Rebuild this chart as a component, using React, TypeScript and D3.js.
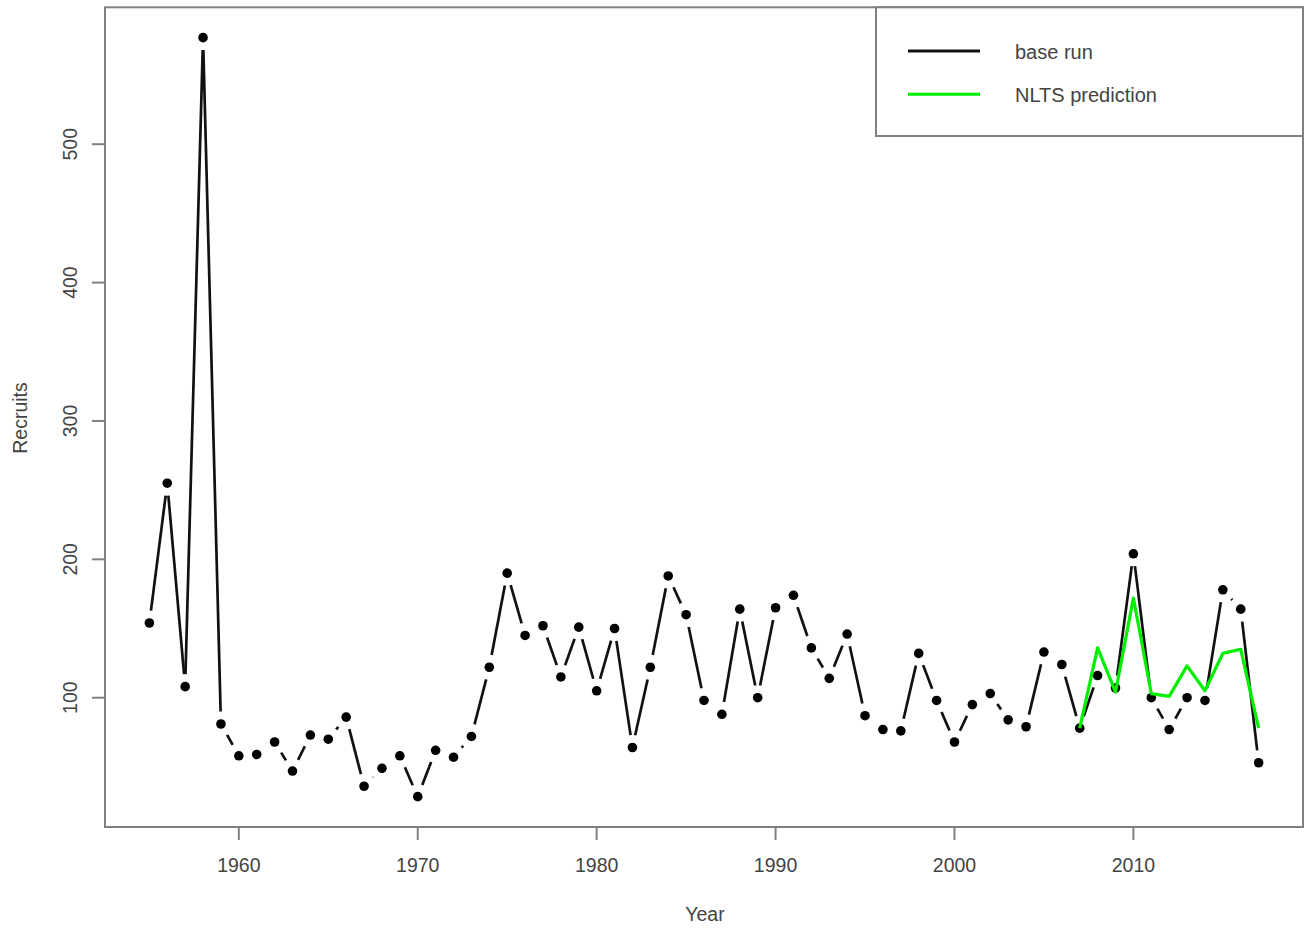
import React from "react";
import * as d3 from "d3";

const years: number[] = [
  1955, 1956, 1957, 1958, 1959, 1960, 1961, 1962, 1963, 1964, 1965, 1966, 1967, 1968, 1969,
  1970, 1971, 1972, 1973, 1974, 1975, 1976, 1977, 1978, 1979, 1980, 1981, 1982, 1983, 1984,
  1985, 1986, 1987, 1988, 1989, 1990, 1991, 1992, 1993, 1994, 1995, 1996, 1997, 1998, 1999,
  2000, 2001, 2002, 2003, 2004, 2005, 2006, 2007, 2008, 2009, 2010, 2011, 2012, 2013, 2014,
  2015, 2016, 2017,
];
const baseRun: number[] = [
  154, 255, 108, 577, 81, 58, 59, 68, 47, 73, 70, 86, 36, 49, 58,
  28.5, 62, 57, 72, 122, 190, 145, 152, 115, 151, 105, 150, 64, 122, 188,
  160, 98, 88, 164, 100, 165, 174, 136, 114, 146, 87, 77, 76, 132, 98,
  68, 95, 103, 84, 79, 133, 124, 78, 116, 107, 204, 100, 77, 100, 98,
  178, 164, 53,
];
const nltsYears: number[] = [2007, 2008, 2009, 2010, 2011, 2012, 2013, 2014, 2015, 2016, 2017];
const nltsPred: number[] = [78, 136, 104, 172, 103, 101, 123, 105, 132, 135, 78];

const xTicks: number[] = [1960, 1970, 1980, 1990, 2000, 2010];
const yTicks: number[] = [100, 200, 300, 400, 500];
const legendLabels: string[] = ["base run", "NLTS prediction"];
const legendColors: string[] = ["#111111", "#00ee00"];

const W = 1308;
const H = 930;
const plot = { left: 105, right: 1303, top: 7.3, bottom: 827 };
const FONT = "'Liberation Sans', Arial, sans-serif";
const TEXT = "#444";
const AXIS = "#808080";

function pad(ext: [number, number]): [number, number] {
  const r = ext[1] - ext[0];
  return [ext[0] - 0.04 * r, ext[1] + 0.04 * r];
}

export default function App() {
  const x = d3
    .scaleLinear()
    .domain(pad(d3.extent(years) as [number, number]))
    .range([plot.left, plot.right]);
  const y = d3
    .scaleLinear()
    .domain(pad(d3.extent(baseRun) as [number, number]))
    .range([plot.bottom, plot.top]);

  const pts = years.map((yr, i) => [x(yr), y(baseRun[i])] as [number, number]);
  const gap = 12.5;
  const segs: [number, number, number, number][] = [];
  for (let i = 1; i < pts.length; i++) {
    const [x0, y0] = pts[i - 1];
    const [x1, y1] = pts[i];
    const dist = Math.hypot(x1 - x0, y1 - y0);
    const f = gap / dist;
    if (f < 0.5) {
      segs.push([x0 + f * (x1 - x0), y0 + f * (y1 - y0), x1 + f * (x0 - x1), y1 + f * (y0 - y1)]);
    }
  }

  const line = d3
    .line<number>()
    .x((_, i) => x(nltsYears[i]))
    .y((d) => y(d));

  return (
    <div style={{ position: "absolute", left: 0, top: 0 }}>
      <svg width={W} height={H} style={{ display: "block", background: "#fff" }}>
        <rect
          x={plot.left}
          y={plot.top}
          width={plot.right - plot.left}
          height={plot.bottom - plot.top}
          fill="none"
          stroke={AXIS}
          strokeWidth={2}
        />
        {xTicks.map((t) => (
          <g key={"x" + t}>
            <line x1={x(t)} x2={x(t)} y1={plot.bottom} y2={plot.bottom + 13} stroke={AXIS} strokeWidth={2} />
            <text x={x(t)} y={872} textAnchor="middle" fontFamily={FONT} fontSize={19.5} fill={TEXT}>
              {t}
            </text>
          </g>
        ))}
        {yTicks.map((t) => (
          <g key={"y" + t}>
            <line x1={plot.left - 13} x2={plot.left} y1={y(t)} y2={y(t)} stroke={AXIS} strokeWidth={2} />
            <text
              transform={`translate(76.5,${y(t)}) rotate(-90)`}
              textAnchor="middle"
              fontFamily={FONT}
              fontSize={19.5}
              fill={TEXT}
            >
              {t}
            </text>
          </g>
        ))}
        <text x={705} y={921} textAnchor="middle" fontFamily={FONT} fontSize={19.5} fill={TEXT}>
          Year
        </text>
        <text
          transform={`translate(26.5,418) rotate(-90)`}
          textAnchor="middle"
          fontFamily={FONT}
          fontSize={19.5}
          fill={TEXT}
        >
          Recruits
        </text>

        {segs.map((s, i) => (
          <line key={"s" + i} x1={s[0]} y1={s[1]} x2={s[2]} y2={s[3]} stroke="#111" strokeWidth={2.7} />
        ))}
        {pts.map((p, i) => (
          <circle key={"p" + i} cx={p[0]} cy={p[1]} r={4.8} fill="#000" />
        ))}

        <path d={line(nltsPred) || ""} fill="none" stroke={legendColors[1]} strokeWidth={3.2} strokeLinejoin="round" />

        <rect x={876} y={plot.top} width={plot.right - 876} height={136 - plot.top} fill="#fff" stroke={AXIS} strokeWidth={2} />
        {legendLabels.map((lab, i) => (
          <g key={lab}>
            <line x1={908} x2={980} y1={51 + i * 43.3} y2={51 + i * 43.3} stroke={legendColors[i]} strokeWidth={3} />
            <text x={1015} y={58.5 + i * 43.3} fontFamily={FONT} fontSize={20} fill={TEXT}>
              {lab}
            </text>
          </g>
        ))}
      </svg>
    </div>
  );
}
